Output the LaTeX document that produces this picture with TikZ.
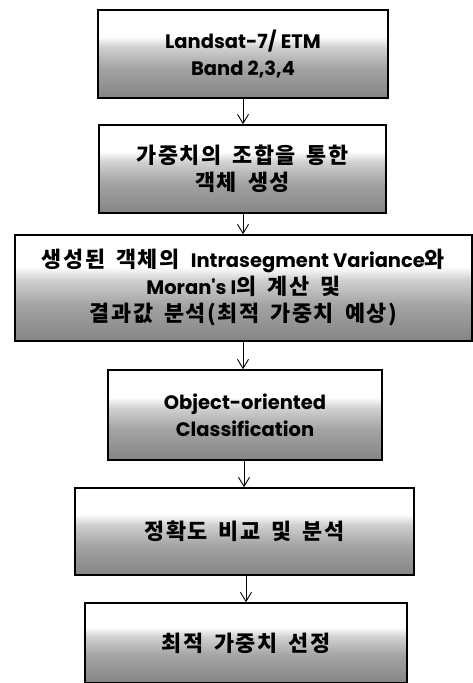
\documentclass[tikz,border=0pt]{standalone}
\usepackage{fontspec}
\setmainfont{Poppins}[Ligatures=TeXOff]
\newfontfamily\kr{Noto Sans CJK KR}[Scale=1.12, LetterSpace=7, WordSpace=1.7]
\usetikzlibrary{arrows.meta}
\pgfdeclareverticalshading{boxshade}{100bp}{color(0bp)=(black!48); color(25bp)=(black!48); color(42bp)=(black!36); color(54bp)=(black!18); color(60bp)=(white); color(100bp)=(white)}
\begin{document}
\begin{tikzpicture}[x=1pt,y=-1pt,
  box/.style={draw=black, line width=1.6pt, shading=boxshade, align=center, inner sep=0pt,
    font=\fontsize{19.5}{27}\selectfont\bfseries},
  flow/.style={-{Straight Barb[length=9pt,width=11pt,line width=0.9pt]}, line width=0.9pt}]
\useasboundingbox (0,0) rectangle (473,683);
\node[box, minimum width=290pt, minimum height=88pt] (b1) at (243,54)
  {Landsat-7/ ETM\\Band 2,3,4};
\node[box, minimum width=287pt, minimum height=88pt] (b2) at (242.5,169)
  {\kr 가중치의 조합을 통한\\\kr 객체 생성};
\node[box, minimum width=457pt, minimum height=106pt] (b3) at (243.5,288)
  {{\kr 생성된 객체의 }Intrasegment Variance{\kr 와}\\Moran's I{\kr 의 계산 및}\\{\kr 결과값 분석(최적 가중치 예상)}};
\node[box, minimum width=274pt, minimum height=90pt] (b4) at (245,415)
  {Object-oriented\\Classification};
\node[box, minimum width=339pt, minimum height=87pt] (b5) at (244.5,531.5)
  {\kr 정확도 비교 및 분석};
\node[box, minimum width=322pt, minimum height=80pt] (b6) at (246,643)
  {\kr 최적 가중치 선정};
\draw[flow] (b1.south -| 243,0) -- (b2.north -| 243,0);
\draw[flow] (b2.south -| 243,0) -- (b3.north -| 243,0);
\draw[flow] (b3.south -| 243,0) -- (b4.north -| 243,0);
\draw[flow] (b4.south -| 244,0) -- (b5.north -| 244,0);
\draw[flow] (b5.south -| 246,0) -- (b6.north -| 246,0);
\end{tikzpicture}
\end{document}
